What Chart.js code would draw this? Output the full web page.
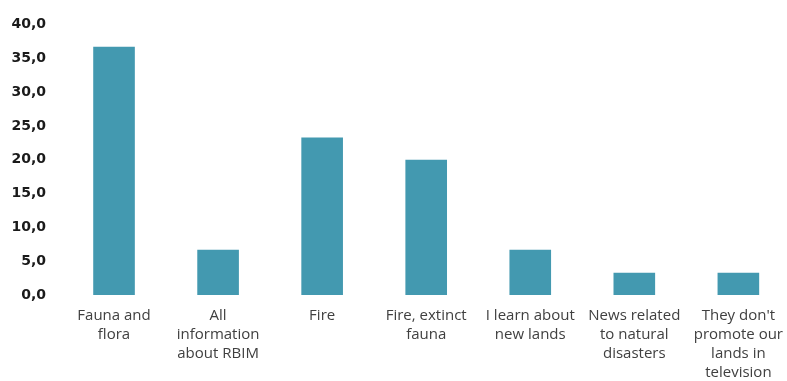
<!DOCTYPE html>
<html>
<head>
<meta charset="utf-8">
<script src="https://cdn.jsdelivr.net/npm/chart.js@4/dist/chart.umd.min.js"></script>
<style>
  html, body { margin: 0; padding: 0; background: #fff; overflow: hidden; }
  #wrap { width: 794px; height: 381px; }
</style>
</head>
<body>
<div id="wrap"><canvas id="graf1"></canvas></div>
<script>
// categorias (eixo X), quebradas em linhas
var categorias = [
    ['Fauna and', 'flora'],
    ['All', 'information', 'about RBIM'],
    ['Fire'],
    ['Fire, extinct', 'fauna'],
    ['I learn about', 'new lands'],
    ['News related', 'to natural', 'disasters'],
    ["They don't", 'promote our', 'lands in', 'television']
];
// percentuais
var percentual = [36.7, 6.7, 23.3, 20.0, 6.7, 3.3, 3.3];

var graf1 = new Chart(document.getElementById("graf1"), {
    type: 'bar',
    data: {
        labels: categorias,
        datasets: [{
            label: 'Percentual',
            data: percentual,
            backgroundColor: '#4399B0',
            borderWidth: 0,
            barPercentage: 0.4,
            categoryPercentage: 1
        }]
    },
    options: {
        responsive: true,
        maintainAspectRatio: false,
        animation: false,
        layout: { padding: { top: 15, right: 0, left: 0, bottom: 0 } },
        plugins: { legend: { display: false }, tooltip: { enabled: false } },
        scales: {
            x: {
                grid: { display: false, drawTicks: false },
                border: { display: false },
                afterFit: function (scale) { scale.height = 86; },
                ticks: {
                    color: '#404040',
                    font: { family: 'Open Sans', size: 15, lineHeight: 1.27 },
                    maxRotation: 0,
                    autoSkip: false,
                    padding: 11
                }
            },
            y: {
                min: 0,
                max: 40,
                grid: { display: false, drawTicks: false },
                border: { display: false },
                afterFit: function (scale) { scale.width = 62; },
                ticks: {
                    stepSize: 5,
                    color: '#1a1a1a',
                    padding: 16,
                    font: { family: 'DejaVu Sans', size: 14, weight: 'bold' },
                    callback: function (v) { return v.toFixed(1).replace('.', ','); }
                }
            }
        }
    }
});
</script>
</body>
</html>
